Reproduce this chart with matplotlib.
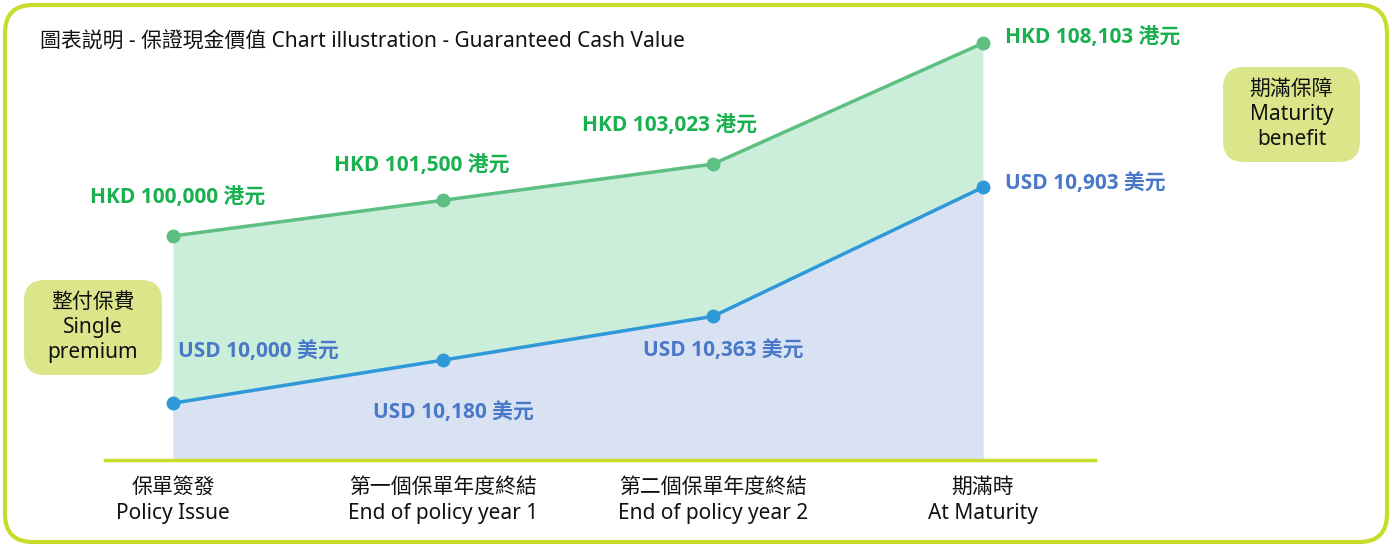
import matplotlib.pyplot as plt
from matplotlib.patches import FancyBboxPatch

plt.rcParams['font.family'] = ['Noto Sans', 'Noto Sans CJK TC', 'DejaVu Sans']
bold_family = ['Open Sans', 'Noto Sans CJK TC', 'DejaVu Sans']

# data
stages = [0, 1, 2, 3]
stage_labels = ["保單簽發\nPolicy Issue", "第一個保單年度終結\nEnd of policy year 1",
                "第二個保單年度終結\nEnd of policy year 2", "期滿時\nAt Maturity"]
hkd_values = [100000, 101500, 103023, 108103]
usd_values = [10000, 10180, 10363, 10903]
hkd_labels = ["HKD 100,000 港元", "HKD 101,500 港元", "HKD 103,023 港元", "HKD 108,103 港元"]
usd_labels = ["USD 10,000 美元", "USD 10,180 美元", "USD 10,363 美元", "USD 10,903 美元"]
title = "圖表説明 - 保證現金價值 Chart illustration - Guaranteed Cash Value"

# colours
green_line = '#5dbf82'
green_fill = '#cbeedb'
green_text = '#19b04f'
blue_line = '#2f98d9'
blue_fill = '#d9e2f3'
blue_text = '#4a78c8'
lime = '#c8dc2c'
bubble = '#dbe68a'

W, H = 1392, 547
fig = plt.figure(figsize=(W / 100, H / 100), dpi=100)

# outer rounded frame
frame = FancyBboxPatch((5 / W, 5 / H), 1 - 10 / W, 1 - 10 / H,
                       boxstyle="round,pad=0,rounding_size=0.02",
                       transform=fig.transFigure, facecolor='white',
                       edgecolor=lime, linewidth=3, mutation_aspect=W / H, zorder=-5)
fig.patches.append(frame)

# axes in pixel box: x 105..1095, y 20..460 (top-based)
ax = fig.add_axes([105 / W, (H - 460) / H, 990 / W, 440 / H])
ax2 = ax.twinx()
ax.set_zorder(ax2.get_zorder() + 1)
ax.patch.set_visible(False)
ax2.patch.set_visible(False)

ax.set_xlim(-0.252, 3.415)
ax.set_ylim(9762, 11603)
ax2.set_ylim(90588, 109075)

# HKD series (behind)
ax2.fill_between(stages, hkd_values, 90588, color=green_fill, lw=0)
ax2.plot(stages, hkd_values, color=green_line, lw=2.5, marker='o', ms=9)

# USD series (front)
ax.fill_between(stages, usd_values, 9762, color=blue_fill, lw=0)
ax.plot(stages, usd_values, color=blue_line, lw=2.5, marker='o', ms=9)

hkd_offsets = [(5, 38, 'center'), (-21, 35, 'center'), (-43, 39, 'center'), (22, 6, 'left')]
usd_offsets = [(85, 52, 'center'), (10, -52, 'center'), (10, -34, 'center'), (22, 4, 'left')]
for x, v, lab, (dx, dy, ha) in zip(stages, hkd_values, hkd_labels, hkd_offsets):
    ax2.annotate(lab, (x, v), xytext=(dx * 0.72, dy * 0.72), textcoords='offset points',
                 ha=ha, va='center', color=green_text, fontsize=15, fontweight='bold',
                 family=bold_family)
for x, v, lab, (dx, dy, ha) in zip(stages, usd_values, usd_labels, usd_offsets):
    ax.annotate(lab, (x, v), xytext=(dx * 0.72, dy * 0.72), textcoords='offset points',
                ha=ha, va='center', color=blue_text, fontsize=15, fontweight='bold',
                family=bold_family)

for a in (ax, ax2):
    for s in ('top', 'right', 'left'):
        a.spines[s].set_visible(False)
    a.set_yticks([])
ax2.spines['bottom'].set_visible(False)
ax.spines['bottom'].set_color(lime)
ax.spines['bottom'].set_linewidth(2.5)
ax.set_xticks(stages)
ax.set_xticklabels(stage_labels, fontsize=15, linespacing=1.35, color='#111111')
ax.tick_params(axis='x', length=0, pad=12)

# title
fig.text(40 / W, 1 - 42 / H, title, fontsize=15, va='center', ha='left', color='#111111')

# bubbles
def add_bubble(x0, y0, x1, y1, text):
    box = FancyBboxPatch((x0 / W, 1 - y1 / H), (x1 - x0) / W, (y1 - y0) / H,
                         boxstyle="round,pad=0,rounding_size=0.015",
                         transform=fig.transFigure, facecolor=bubble,
                         edgecolor='none', mutation_aspect=W / H)
    fig.patches.append(box)
    fig.text((x0 + x1) / 2 / W, 1 - (y0 + y1) / 2 / H, text, ha='center', va='center',
             fontsize=15, linespacing=1.25, color='#111111')

add_bubble(24, 280, 162, 375, "整付保費\nSingle\npremium")
add_bubble(1223, 67, 1360, 162, "期滿保障\nMaturity\nbenefit")

fig.savefig('out.png', dpi=100)
